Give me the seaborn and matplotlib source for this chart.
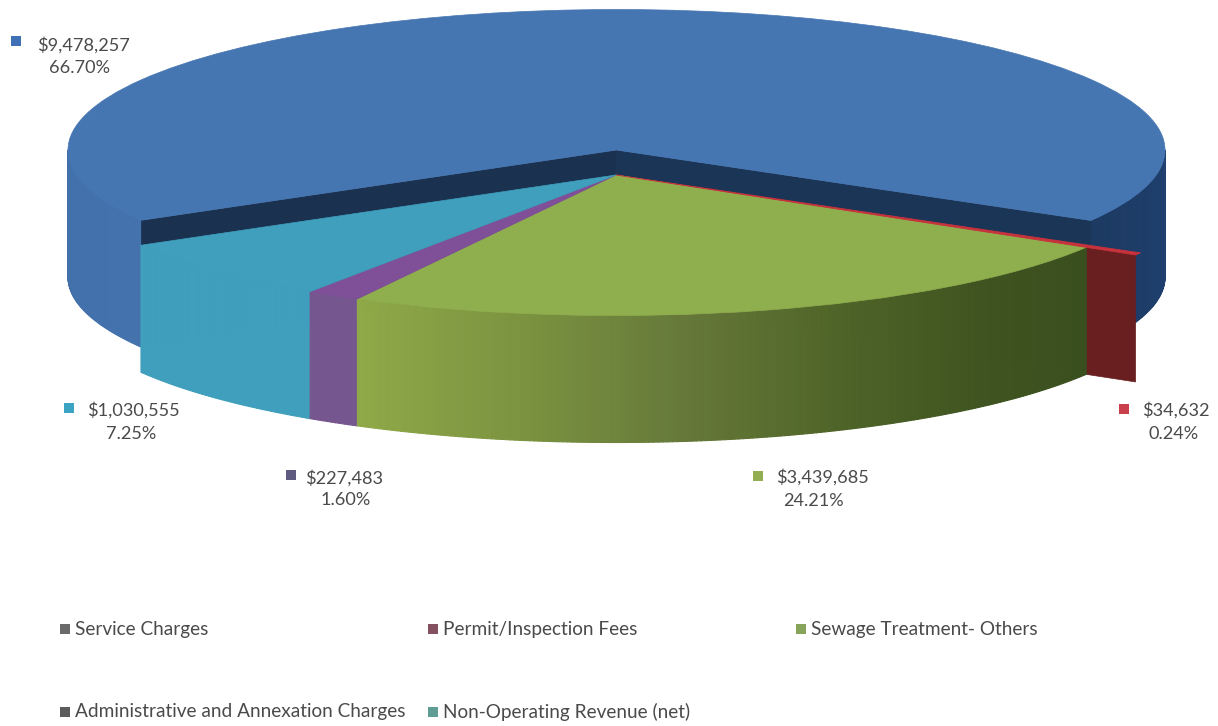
import numpy as np
import matplotlib
matplotlib.use('Agg')
import matplotlib.pyplot as plt
from matplotlib.collections import PolyCollection
from matplotlib.patches import Polygon
import seaborn as sns

categories = ['Service Charges', 'Permit/Inspection Fees', 'Sewage Treatment- Others',
              'Administrative and Annexation Charges', 'Non-Operating Revenue (net)']
revenue = [9478257, 34632, 3439685, 227483, 1030555]
percent = [66.70, 0.24, 24.21, 1.60, 7.25]

top_colors = ['#4676b2', '#c8323c', '#8fae4e', '#7f4f98', '#3f9fbc']
mark_colors = ['#3f6fb5', '#c9404c', '#93ad52', '#5f5a80', '#3ba3c4']
legend_colors = ['#6a6a6a', '#85505f', '#88a35a', '#5c5c5c', '#5f9c94']
text_color = '#4a4a4a'

# pixel geometry of the picture
cx, cy, a, b = 616.5, 150, 548.5, 140.5
front_cx, front_cy = 616, 175
depth = 127 / b

sns.set_theme(style='white')
plt.rcParams['font.family'] = ['Lato', 'DejaVu Sans']

fig = plt.figure(figsize=(12.18, 7.26), dpi=100)
ax = fig.add_axes([0, 0, 1, 1])
wedges, _ = ax.pie(revenue, colors=top_colors, startangle=210, counterclock=False)
for w, c in zip(wedges, top_colors):
    w.set_edgecolor(c)
    w.set_linewidth(0.5)
ax.set_aspect('auto')
ax.set_xlim(-cx / a, (1218 - cx) / a)
ax.set_ylim((cy - 726) / b, cy / b)
ax.axis('off')

front = ((front_cx - cx) / a, (cy - front_cy) / b)


def wall(theta1, theta2, center, stops, z, radius=1.0):
    n = max(int(abs(theta2 - theta1) * 2), 2)
    edges = np.radians(np.linspace(theta1, theta2, n + 1))
    xs = center[0] + radius * np.cos(edges)
    ys = center[1] + radius * np.sin(edges)
    polys = [[(xs[i], ys[i]), (xs[i + 1], ys[i + 1]),
              (xs[i + 1], ys[i + 1] - depth), (xs[i], ys[i] - depth)] for i in range(n)]
    cols = sns.blend_palette(stops, n)
    ax.add_collection(PolyCollection(polys, facecolors=cols, edgecolors=cols, linewidths=0.8, zorder=z))


def radial_face(theta, center, color, z, radius=1.0):
    t = np.radians(theta)
    rx, ry = center[0] + radius * np.cos(t), center[1] + radius * np.sin(t)
    pts = [center, (rx, ry), (rx, ry - depth), (center[0], center[1] - depth)]
    ax.add_patch(Polygon(pts, closed=True, facecolor=color, edgecolor=color, lw=0.5, zorder=z))


blue, red, green, purple, teal = wedges

# back slice
wall(blue.theta1, 0, (0, 0), ['#1c3a62', '#1f4070'], 1)
wall(180, blue.theta2, (0, 0), ['#4270aa', '#4472ad'], 1)
radial_face(blue.theta1, (0, 0), '#1b3557', 2)
radial_face(blue.theta2, (0, 0), '#1a3150', 2)
blue.set_zorder(3)

# slices pulled forward
red_radius = 1.105
radial_face(red.theta1, front, '#691e20', 4, radius=red_radius)
wall(teal.theta1, teal.theta2, front, ['#3f9fbc', '#3f9fbc'], 5)
wall(purple.theta1, purple.theta2, front, ['#76568f', '#76568f'], 5)
wall(green.theta1, green.theta2, front, ['#8fa948', '#7c9440', '#66793a', '#4f6428', '#3f5420', '#3a4f1e'], 5)

for w in [teal, purple, green]:
    w.set_center(front)
    w.set_zorder(6)
red.set_center(front)
red.set_radius(red_radius)
red.set_linewidth(0.6)
red.set_zorder(7)

# labels and legend in pixel units
over = fig.add_axes([0, 0, 1, 1])
over.patch.set_alpha(0)

label_xy = [(83, 45), (1176, 410), (822, 477), (344, 478), (133, 410)]
pct_xy = [(80, 68), (1174, 434), (813, 501), (346, 500), (131, 434)]
mark_xy = [(16, 41), (1124, 409), (758, 476), (291, 475), (69, 408)]
legend_xy = [(75, 629), (443, 629), (811, 629), (75, 712), (443, 712)]

for i in range(len(revenue)):
    over.text(*label_xy[i], f'${revenue[i]:,}', ha='center', va='center', fontsize=13.1, color=text_color)
    over.text(*pct_xy[i], f'{percent[i]:.2f}%', ha='center', va='center', fontsize=13.1, color=text_color)
    over.text(*legend_xy[i], categories[i], ha='left', va='center', fontsize=13.7, color=text_color)
    sns.scatterplot(x=[mark_xy[i][0]], y=[mark_xy[i][1]], marker='s', s=55, color=mark_colors[i],
                    linewidth=0, ax=over, legend=False)
    sns.scatterplot(x=[legend_xy[i][0] - 10], y=[legend_xy[i][1]], marker='s', s=55, color=legend_colors[i],
                    linewidth=0, ax=over, legend=False)

over.set_xlim(0, 1218)
over.set_ylim(726, 0)
over.axis('off')

fig.savefig('out.png', dpi=100)
